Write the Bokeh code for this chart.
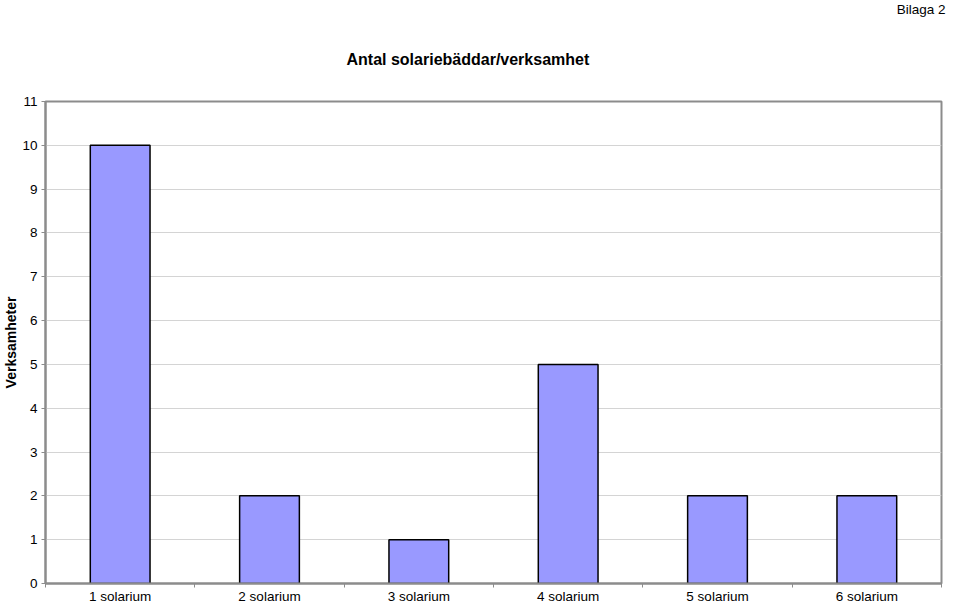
from bokeh.plotting import figure
from bokeh.models import Range1d, FixedTicker, Title
from bokeh.embed import file_html
from bokeh.resources import INLINE

categories = ["1 solarium", "2 solarium", "3 solarium", "4 solarium", "5 solarium", "6 solarium"]
values = [10, 2, 1, 5, 2, 2]
y_ticks = list(range(0, 12))
title_text = "Antal solariebäddar/verksamhet"
y_label = "Verksamheter"
corner_text = "Bilaga 2"

FONT = "Liberation Sans"
n = len(categories)
centers = [i + 0.5 for i in range(n)]

p = figure(width=959, height=607, output_backend="svg", toolbar_location=None,
           x_range=Range1d(0, n), y_range=Range1d(0, 11),
           min_border_left=45, min_border_right=18, min_border_top=101, min_border_bottom=24)
p.background_fill_color = "white"
p.border_fill_color = "white"
p.outline_line_color = "#8c8c8c"
p.outline_line_width = 2

p.vbar(x=centers, top=values, width=0.4, bottom=0,
       fill_color="#9999FF", line_color="#000000", line_width=1.5)

p.xgrid.grid_line_color = None
p.ygrid.ticker = FixedTicker(ticks=y_ticks)
p.ygrid.grid_line_color = "#d4d4d4"
p.ygrid.grid_line_width = 1

p.yaxis.ticker = FixedTicker(ticks=y_ticks)
p.yaxis.axis_line_color = "#8c8c8c"
p.yaxis.axis_line_width = 2
p.yaxis.major_tick_line_color = "#8c8c8c"
p.yaxis.major_tick_in = 0
p.yaxis.major_tick_out = 4
p.yaxis.minor_tick_line_color = None
p.yaxis.major_label_standoff = 4
p.yaxis.major_label_text_font = FONT
p.yaxis.major_label_text_font_size = "13.5px"
p.yaxis.major_label_text_color = "black"
p.yaxis.axis_label = y_label
p.yaxis.axis_label_text_font = FONT
p.yaxis.axis_label_text_font_size = "14px"
p.yaxis.axis_label_text_font_style = "bold"
p.yaxis.axis_label_text_color = "black"
p.yaxis.axis_label_standoff = 0

p.xaxis.ticker = FixedTicker(ticks=centers, minor_ticks=list(range(0, n + 1)))
p.xaxis.major_label_overrides = {c: lab for c, lab in zip(centers, categories)}
p.xaxis.axis_line_color = "#8c8c8c"
p.xaxis.axis_line_width = 2
p.xaxis.major_tick_line_color = None
p.xaxis.major_tick_in = 0
p.xaxis.major_tick_out = 0
p.xaxis.minor_tick_line_color = "#8c8c8c"
p.xaxis.minor_tick_in = 0
p.xaxis.minor_tick_out = 4
p.xaxis.major_label_standoff = 1
p.xaxis.major_label_text_font = FONT
p.xaxis.major_label_text_font_size = "13.5px"
p.xaxis.major_label_text_color = "black"

# outermost panel: corner note; inner panel: main title
p.title = Title(text=corner_text, align="right", offset=-4, text_font=FONT,
                text_font_size="13.5px", text_font_style="normal", text_color="black",
                standoff=-2)
p.add_layout(Title(text=title_text, align="left", offset=301, text_font=FONT,
                   text_font_size="16px", text_font_style="bold", text_color="black",
                   standoff=67), "above")

open("out.html", "w").write(file_html(p, INLINE))
